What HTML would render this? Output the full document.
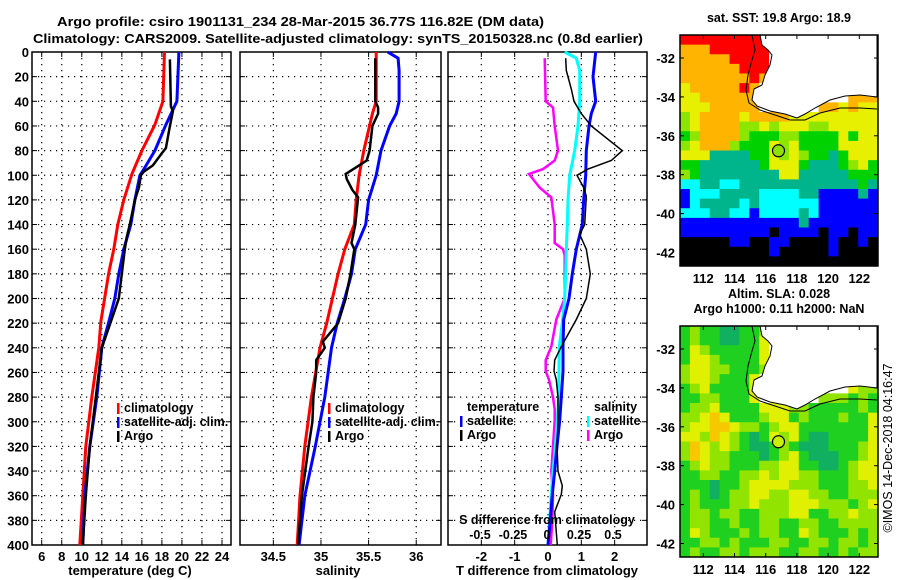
<!DOCTYPE html>
<html><head><meta charset="utf-8"><title>Argo profile</title>
<style>
html,body{margin:0;padding:0;background:#fff;}
svg{display:block;font-family:"Liberation Sans",sans-serif;font-weight:bold;}
</style></head>
<body>
<svg id="fig" width="900" height="580" viewBox="0 0 900 580" xmlns="http://www.w3.org/2000/svg">
<rect x="0" y="0" width="900" height="580" fill="#fff"/>
<text x="57" y="26" font-size="13" textLength="487" lengthAdjust="spacingAndGlyphs">Argo profile: csiro 1901131_234 28-Mar-2015 36.77S 116.82E (DM data)</text>
<text x="33" y="43" font-size="13" textLength="610" lengthAdjust="spacingAndGlyphs">Climatology: CARS2009. Satellite-adjusted climatology: synTS_20150328.nc (0.8d earlier)</text>
<g id="charts"></g>
</svg>
<script>
// ---------- data ----------
const depthLevels = [0,20,40,60,80,100,120,140,160,180,200,220,240,260,280,300,320,340,360,380,400];
const tempTicks = [6,8,10,12,14,16,18,20,22,24];
const salTicks = [34.5,35,35.5,36];
const diffTicks = [-2,-1,0,1,2];
const sDiffTickLabels = ["-0.5","-0.25","0","0.25","0.5"];

const tClimDepth = [0,40,59,80,99,120,140,160,179,199,219,240,280,320,360,400];
const tClim      = [18.26,18.1,17.3,16.0,15.0,14.2,13.6,13.2,12.7,12.3,11.9,11.7,11.0,10.4,10.1,9.8];
const tSatDepth  = [0,40,59,80,95,100,120,140,160,180,200,219,240,280,320,360,400];
const tSat       = [19.7,19.5,18.4,17.3,16.2,15.8,15.3,14.9,14.2,13.7,13.3,12.7,12.0,11.5,10.8,10.3,10.1];
const tArgoDepth = [6,44,48,60,78,82,92,97,100,110,120,140,150,160,180,200,219,240,260,280,320,360,400];
const tArgo      = [18.8,18.9,19.1,18.8,18.4,18.0,17.1,16.2,15.9,15.7,15.3,14.8,14.5,14.3,14.0,13.7,12.9,12.0,11.7,11.4,10.8,10.4,10.1];

const sClimDepth = [0,40,50,80,100,120,140,160,180,200,220,240,280,320,360,400];
const sClim      = [35.58,35.58,35.54,35.45,35.40,35.37,35.35,35.25,35.18,35.12,35.06,34.99,34.90,34.83,34.78,34.75];
const sSatDepth  = [0,5,15,40,50,60,80,100,120,140,160,180,200,220,240,280,320,360,400];
const sSat       = [35.70,35.81,35.82,35.82,35.79,35.72,35.63,35.58,35.50,35.47,35.36,35.32,35.25,35.17,35.11,35.04,34.94,34.83,34.77];
const sArgoDepth = [5,40,45,50,60,80,88,92,99,103,112,118,140,155,160,180,200,220,235,240,250,260,280,300,320,360,400];
const sArgo      = [35.57,35.57,35.60,35.60,35.54,35.51,35.48,35.40,35.26,35.27,35.33,35.39,35.36,35.32,35.35,35.31,35.26,35.18,35.02,35.04,34.95,34.95,34.92,34.91,34.87,34.80,34.76];

// differences, in T-difference axis units
const dTSatDepth  = [0,20,40,50,60,80,100,120,140,160,180,200,217,239,259,280,299,320,340,359,380,400];
const dTSat       = [1.43,1.35,1.43,1.30,1.23,1.15,1.13,1.07,1.03,0.85,0.73,0.63,0.47,0.45,0.45,0.40,0.35,0.27,0.20,0.13,0.07,0.0];
const dSSatDepth  = [0,5,15,40,60,80,100,120,140,160,180,200,220,239,259,280,299,320,340,359,380,400];
const dSSat       = [0.50,0.85,0.95,0.95,0.90,0.80,0.65,0.60,0.58,0.55,0.53,0.50,0.43,0.34,0.33,0.32,0.28,0.22,0.15,0.10,0.05,0.0];
const dTArgoDepth = [5,15,30,40,50,60,80,88,95,100,110,117,140,148,160,180,200,217,239,250,259,266,280,299,320,340,352,359,373,400];
const dTArgo      = [0.53,0.55,0.70,0.78,1.00,1.30,2.23,1.90,1.20,0.87,1.07,1.15,1.10,0.95,1.15,1.27,1.15,0.85,0.40,0.20,0.18,0.25,0.30,0.30,0.27,0.30,0.43,0.40,0.20,0.28];
const dSArgoDepth = [5,40,45,60,80,88,95,99,110,118,140,155,160,165,200,217,239,250,259,266,280,290,299,320,340,359,380,400];
const dSArgo      = [-0.10,-0.07,0.15,0.20,0.30,0.20,-0.15,-0.57,-0.25,0.10,0.20,0.20,0.45,0.50,0.50,0.25,0.10,-0.07,-0.07,0.03,0.15,0.20,0.20,0.15,0.10,0.15,0.13,0.08];

// map grids (20 cols x 24 rows), letters = colour classes, W = land
const sstGrid = [
"RRRRRRRRRWWWWWWWWWWW","OOORRRRRRWWWWWWWWWWW","OOOOORRRRWWWWWWWWWWW","OOOOOORRRWWWWWWWWWWW",
"OOOOOOOROWWWWWWWWWWW","YOOOOOROWWWWWWWWWWWW","YYOOOOOOWWWWWWWWWOOO","YYYOOOOOWWWWWWOOYOYY",
"LYOOOOYOOOOYYYYYYYYY","LYOOOOLLYLYYYLLYYYYY","GLOOOOLGGGLLGGGGYGYY","LYOOOLGGGYLYGGGGYYYY",
"YYYTTTTGGYLYLGGTGYYY","GGTTTTTTGYYYGTTTGLYG","LGTTTTTTTTYYTTTTTGGG","CCTTCCTTTTTTTTTTTTGT",
"BCCCTTTTCCCCTTBBBBTB","BCTTTTCTCCCCCCBBBBBB","CCCTTCCBCCCCTCBBBBBB","BBBBBBBBBBBBTBBBBBBB",
"BBBBBBBBBKBBBBKBBKBB","KKKKKBBKKBBKKKKBKKBK","KKKKKKKKKBKKKKKBKKKK","KKKKKKKKKKKKKKKKKKKK"];
const slaGrid = [
"GLGGTTGGLWWWWWWWWWWW","GLGGTTGGYWWWWWWWWWWW","GYLGGGGGYWWWWWWWWWWW","GYYLGGGGYWWWWWWWWWWW",
"LYYLLGGGLWWWWWWWWWWW","LYYLGGGYWWWWWWWWWWWW","GLYGGGGYWWWWWWWWWYLL","GGLLGGGYWWWWWWLLLGLG",
"GLLYGGGGYYYLLGGGGGLG","LLYOYGGGLYYGLGGGLGGY","LYYOOYLLGLYYGGGGGGGY","YYLOYLGTGYLYGTTGGGGY",
"LOYLYLGTTGLGTTTGGGLY","LOYLLGGGTGLYGTTTGGLY","GLYLLGGGLLYYGGTTGLYY","GGLLGGLLYLYYLLGGGLYY",
"GGGTGGLYYYYLLLGGGLLY","GLGTGLLYYLLYYLLGGLLL","GLGGGLLYLLLYYYLLLGLY","GLLGLLGGLLLYYGGLLYLL",
"GLLGGLGGLLGGLLGGLLLL","GYLGGGLGLLGGYLGGGLGL","GGLLGLGGGLLGGLLGLLGL","GLGGLLGLLLGGLLGGLGLL"];
const lonTicks = [112,114,116,118,120,122];
const latTicks = [-32,-34,-36,-38,-40,-42];
const argoLon = 116.82, argoLat = -36.77;

// ---------- drawing ----------
const NS = "http://www.w3.org/2000/svg";
const root = document.getElementById('charts');
function el(tag, attrs, parent){ const e=document.createElementNS(NS,tag); for(const k in attrs) e.setAttribute(k,attrs[k]); (parent||root).appendChild(e); return e; }
function txt(s, x, y, anchor, size, parent){ const t=el('text',{x:x,y:y,'text-anchor':anchor||'middle','font-size':size||12},parent); t.textContent=s; return t; }

const Y0=52, Y1=545;
const yD = d => Y0 + (d/400)*(Y1-Y0);

const panels = [
 {name:'temperature-panel', x0:32, x1:231, dmin:5.03, dmax:24.9, ticks:tempTicks, tickFmt:v=>String(v)},
 {name:'salinity-panel', x0:240, x1:441, dmin:34.15, dmax:36.26, ticks:salTicks, tickFmt:v=>String(v)},
 {name:'difference-panel', x0:448, x1:647, dmin:-3.0, dmax:2.97, ticks:diffTicks, tickFmt:v=>String(v)}
];
panels.forEach(p=>{ p.sx = v => p.x0 + (v-p.dmin)/(p.dmax-p.dmin)*(p.x1-p.x0); });

panels.forEach((p,pi)=>{
  const g = el('g',{});
  
  
  // grid
  p.ticks.forEach(v=>{ const x=p.sx(v); el('line',{x1:x,x2:x,y1:Y0,y2:Y1,stroke:'#000','stroke-width':1.2,'stroke-dasharray':'1.2,4.8'},g);
    el('line',{x1:x,x2:x,y1:Y1,y2:Y1-5,stroke:'#000'},g); el('line',{x1:x,x2:x,y1:Y0,y2:Y0+5,stroke:'#000'},g); });
  depthLevels.forEach(d=>{ if(d===0||d===400) return; const y=yD(d); el('line',{x1:p.x0,x2:p.x1,y1:y,y2:y,stroke:'#000','stroke-width':1.2,'stroke-dasharray':'1.2,4.8'},g);
    el('line',{x1:p.x0,x2:p.x0+5,y1:y,y2:y,stroke:'#000'},g); el('line',{x1:p.x1,x2:p.x1-5,y1:y,y2:y,stroke:'#000'},g); });
  el('rect',{x:p.x0,y:Y0,width:p.x1-p.x0,height:Y1-Y0,fill:'none',stroke:'#000','stroke-width':1.5},g);
  // x tick labels
  p.ticks.forEach(v=>{ const t=txt(p.tickFmt(v), p.sx(v), 561, 'middle', 13, g);
      });
});
// depth labels
depthLevels.forEach(d=>{ const t=txt(String(d), 29, yD(d)+5, 'end', 13);
  
   });

function series(p, depths, vals, color, w, name){
  const pts = depths.map((d,i)=> p.sx(vals[i]).toFixed(1)+','+yD(d).toFixed(1)).join(' ');
  const l = el('polyline',{points:pts,fill:'none',stroke:color,'stroke-width':w,'stroke-linejoin':'miter'});
  
  
}
series(panels[0], tClimDepth, tClim, '#ff0000', 3, 'temperature-climatology-line');
series(panels[0], tSatDepth, tSat, '#0000ff', 3, 'temperature-satellite-line');
series(panels[0], tArgoDepth, tArgo, '#000000', 2.5, 'temperature-argo-line');
series(panels[1], sClimDepth, sClim, '#ff0000', 3, 'salinity-climatology-line');
series(panels[1], sSatDepth, sSat, '#0000ff', 3, 'salinity-satellite-line');
series(panels[1], sArgoDepth, sArgo, '#000000', 2.5, 'salinity-argo-line');
series(panels[2], dSArgoDepth, dSArgo, '#ff00ff', 2.5, 'sdiff-argo-line');
series(panels[2], dSSatDepth, dSSat, '#00ffff', 3, 'sdiff-satellite-line');
series(panels[2], dTSatDepth, dTSat, '#0000ff', 3, 'tdiff-satellite-line');
series(panels[2], dTArgoDepth, dTArgo, '#000000', 1.5, 'tdiff-argo-line');

function legend(x, y, items, name){
  const g = el('g',{});
  
  
  items.forEach((it,i)=>{
    const yy = y + i*14;
    if(it[1]) el('rect',{x:x,y:yy-9,width:2.5,height:11,fill:it[1]},g);
    txt(it[0], x+(it[1]?7:7), yy, 'start', 12.5, g);
  });
}
legend(117, 412, [['climatology','#ff0000'],['satellite-adj. clim.','#0000ff'],['Argo','#000']], 'temperature-legend');
legend(328, 412, [['climatology','#ff0000'],['satellite-adj. clim.','#0000ff'],['Argo','#000']], 'salinity-legend');
legend(460, 411, [['temperature',null],['satellite','#0000ff'],['Argo','#000']], 'tdiff-legend');
legend(587, 411, [['salinity',null],['satellite','#00ffff'],['Argo','#ff00ff']], 'sdiff-legend');

txt('temperature (deg C)', 130, 575, 'middle', 13);
txt('salinity', 338, 575, 'middle', 13);
txt('T difference from climatology', 547, 575, 'middle', 13);
txt('S difference from climatology', 547, 524, 'middle', 12.5);
const sPos = [480,513,547,579,613];
sDiffTickLabels.forEach((s,i)=>{ const t=txt(s, sPos[i], 539, 'middle', 12.5);
  
   });

// ---------- maps ----------
const colors = {R:'#ff0000',O:'#ffb400',Y:'#e6f000',L:'#8ce600',G:'#00d200',T:'#00b48c',C:'#00ffff',B:'#0000ff',K:'#000000',W:'#ffffff'};
const slaColors = {R:'#ff0000',O:'#f5c800',Y:'#e0f000',L:'#90e400',G:'#20d020',T:'#10b060',C:'#00ffff',B:'#0000ff',K:'#000000',W:'#ffffff'};
function drawMap(top, grid, pal, name, titleLines, circleFill){
  const L=680, R=878, T=top, B=top+231;
  const sxLon = lon => 703.3 + (lon-112)*15.6;
  const syLat = lat => T + 23 + (-32-lat)*19.45;
  const g = el('g',{});
  
  
  const cw=(R-L)/grid[0].length, ch=(B-T)/grid.length;
  grid.forEach((row,j)=>{ for(let i=0;i<row.length;i++){
    el('rect',{x:(L+i*cw).toFixed(2),y:(T+j*ch).toFixed(2),width:(cw+0.4).toFixed(2),height:(ch+0.4).toFixed(2),fill:pal[row[i]]},g); } });
  const coast = [[760,0],[762,10],[768,15],[772,20],[770,30],[765,40],[762,50],[754,54],[752,65],[757,71],[770,76],[785,79],[797,83],[805,79],[815,73],[830,65],[845,61],[860,60],[877,62]];
  const shelf = [[752,0],[755,15],[752,25],[748,40],[746,55],[749,68],[760,75],[775,80],[790,85],[805,85],[820,78],[840,73],[860,73],[877,74]];
  el('polygon',{points:coast.map(p=>p[0]+','+(T+p[1])).join(' ')+' 877,'+T,fill:'#fff',stroke:'#000','stroke-width':1},g);
  el('polyline',{points:shelf.map(p=>p[0]+','+(T+p[1])).join(' '),fill:'none',stroke:'#000','stroke-width':1},g);
  const c = el('circle',{cx:sxLon(argoLon),cy:syLat(argoLat),r:6,fill:circleFill,stroke:'#000','stroke-width':1.2},g);
  
  
  el('rect',{x:L,y:T,width:R-L,height:B-T,fill:'none',stroke:'#000','stroke-width':1.5},g);
  lonTicks.forEach(v=>{ const x=sxLon(v); el('line',{x1:x,x2:x,y1:T,y2:T+4,stroke:'#000'},g); el('line',{x1:x,x2:x,y1:B,y2:B-4,stroke:'#000'},g);
    txt(String(v), x, B+17, 'middle', 13, g); });
  latTicks.forEach(v=>{ const y=syLat(v); el('line',{x1:L,x2:L+4,y1:y,y2:y,stroke:'#000'},g); el('line',{x1:R,x2:R-4,y1:y,y2:y,stroke:'#000'},g);
    txt(String(v), 675, y+5, 'end', 13, g); });
  titleLines.forEach((s,i)=>{ txt(s, 779, top-13-(titleLines.length-1-i)*15, 'middle', 12.5, g); });
}
drawMap(35, sstGrid, colors, 'sst-map', ['sat. SST: 19.8 Argo: 18.9'], '#90e000');
drawMap(326, slaGrid, slaColors, 'sla-map', ['Altim. SLA: 0.028','Argo h1000: 0.11 h2000: NaN'], '#c8f000');
const cr = txt('\u00A9IMOS 14-Dec-2018 04:16:47', 0, 0, 'middle', 12.5);
cr.setAttribute('transform','translate(892,448) rotate(-90)');
cr.setAttribute('font-weight','normal');


</script>
</body></html>
